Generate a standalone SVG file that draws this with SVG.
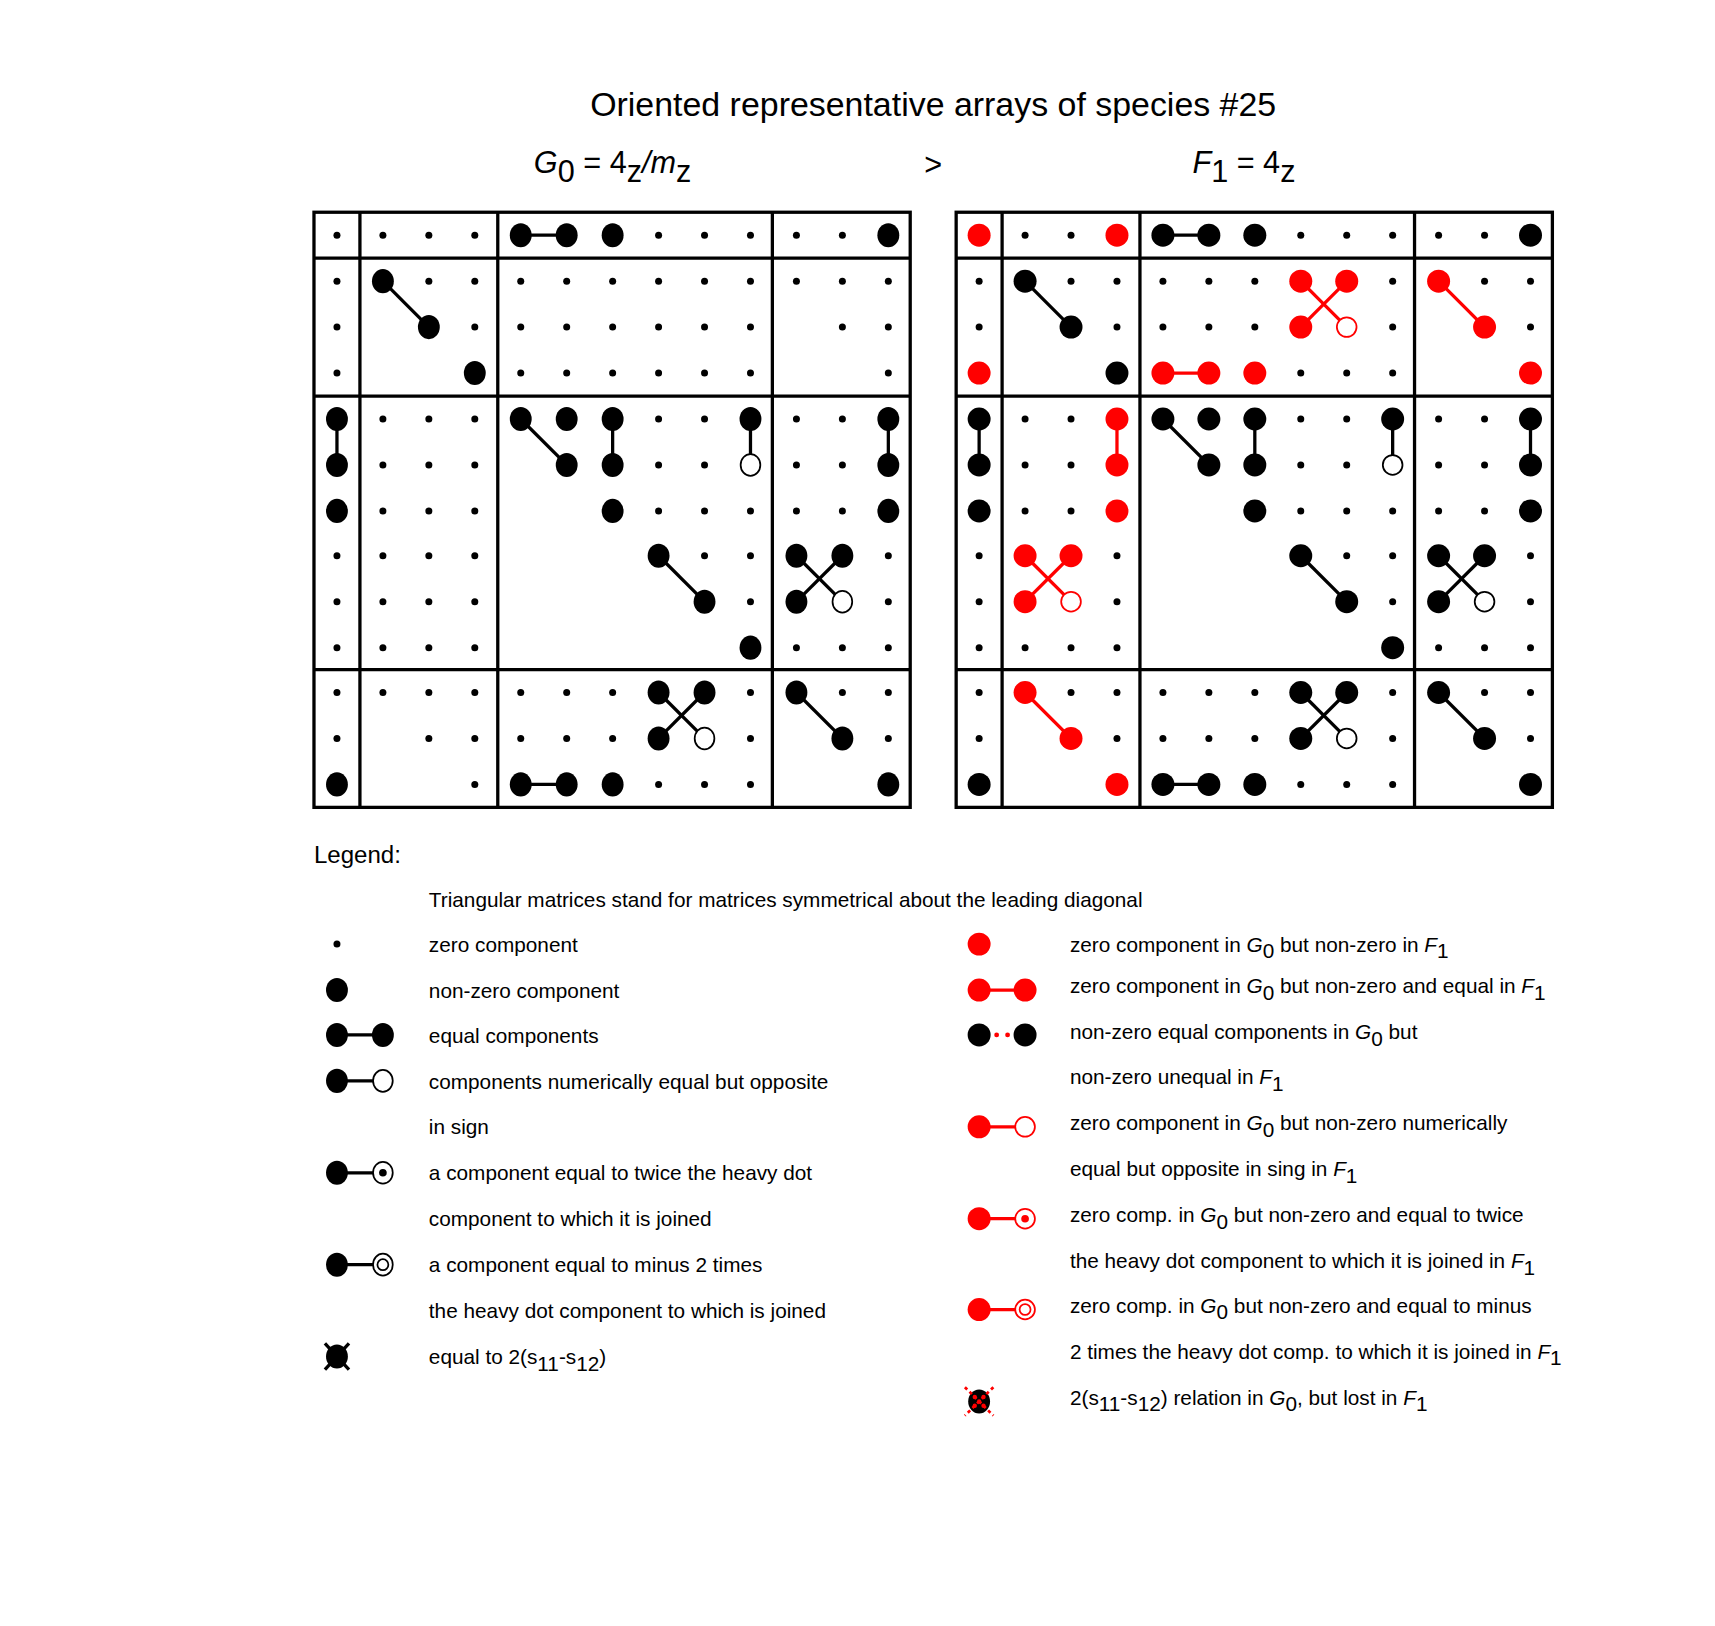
<svg xmlns="http://www.w3.org/2000/svg" width="1715" height="1626" viewBox="0 0 1715 1626">
<style>
text{font-family:"Liberation Sans",Arial,sans-serif;fill:#000}
.t{font-size:19px}
.s{fill:#000}
.b{fill:#000}
.r{fill:#f00}
.o{fill:#fff;stroke:#000;stroke-width:1.6}
.or{fill:#fff;stroke:#f00;stroke-width:1.6}
.l{stroke:#000;stroke-width:3;fill:none}
.lr{stroke:#f00;stroke-width:3;fill:none}
.g{stroke:#000;stroke-width:3;fill:none}
</style>
<defs>
<circle id="s" r="3.2"/>
<ellipse id="b" rx="10" ry="11"/>
<circle id="B" r="10.5"/>
</defs>
<rect width="1715" height="1626" fill="#fff"/>
<g transform="scale(1.094)">
<g id="title">
<text x="853" y="106" font-size="31" text-anchor="middle">Oriented representative arrays of species #25</text>
<text x="488" y="158" font-size="28"><tspan font-style="italic">G</tspan><tspan dy="8">0</tspan><tspan dy="-8"> = 4</tspan><tspan dy="8">z</tspan><tspan dy="-8" font-style="italic">/m</tspan><tspan dy="8">z</tspan></text>
<text x="853" y="160" font-size="28" text-anchor="middle">&gt;</text>
<text x="1090" y="158" font-size="28"><tspan font-style="italic">F</tspan><tspan dy="8">1</tspan><tspan dy="-8"> = 4</tspan><tspan dy="8">z</tspan></text>
</g>
<g id="gridG0">
<g class="g">
<rect x="287" y="194" width="545" height="544"/>
<line x1="329" y1="194" x2="329" y2="738"/><line x1="455" y1="194" x2="455" y2="738"/><line x1="706" y1="194" x2="706" y2="738"/>
<line x1="287" y1="236" x2="832" y2="236"/><line x1="287" y1="362" x2="832" y2="362"/><line x1="287" y1="612" x2="832" y2="612"/>
</g>
<g class="l">
<line x1="476" y1="215" x2="518" y2="215"/>
<line x1="350" y1="257" x2="392" y2="299"/>
<line x1="308" y1="383" x2="308" y2="425"/>
<line x1="476" y1="383" x2="518" y2="425"/>
<line x1="560" y1="383" x2="560" y2="425"/>
<line x1="686" y1="383" x2="686" y2="425"/>
<line x1="812" y1="383" x2="812" y2="425"/>
<line x1="602" y1="508" x2="644" y2="550"/>
<line x1="728" y1="508" x2="770" y2="550"/>
<line x1="770" y1="508" x2="728" y2="550"/>
<line x1="602" y1="633" x2="644" y2="675"/>
<line x1="644" y1="633" x2="602" y2="675"/>
<line x1="728" y1="633" x2="770" y2="675"/>
<line x1="476" y1="717" x2="518" y2="717"/>
</g>
<g class="s">
<use href="#s" x="308" y="215"/><use href="#s" x="350" y="215"/><use href="#s" x="392" y="215"/><use href="#s" x="434" y="215"/><use href="#s" x="602" y="215"/><use href="#s" x="644" y="215"/><use href="#s" x="686" y="215"/><use href="#s" x="728" y="215"/><use href="#s" x="770" y="215"/>
<use href="#s" x="308" y="257"/><use href="#s" x="392" y="257"/><use href="#s" x="434" y="257"/><use href="#s" x="476" y="257"/><use href="#s" x="518" y="257"/><use href="#s" x="560" y="257"/><use href="#s" x="602" y="257"/><use href="#s" x="644" y="257"/><use href="#s" x="686" y="257"/><use href="#s" x="728" y="257"/><use href="#s" x="770" y="257"/><use href="#s" x="812" y="257"/>
<use href="#s" x="308" y="299"/><use href="#s" x="434" y="299"/><use href="#s" x="476" y="299"/><use href="#s" x="518" y="299"/><use href="#s" x="560" y="299"/><use href="#s" x="602" y="299"/><use href="#s" x="644" y="299"/><use href="#s" x="686" y="299"/><use href="#s" x="770" y="299"/><use href="#s" x="812" y="299"/>
<use href="#s" x="308" y="341"/><use href="#s" x="476" y="341"/><use href="#s" x="518" y="341"/><use href="#s" x="560" y="341"/><use href="#s" x="602" y="341"/><use href="#s" x="644" y="341"/><use href="#s" x="686" y="341"/><use href="#s" x="812" y="341"/>
<use href="#s" x="350" y="383"/><use href="#s" x="392" y="383"/><use href="#s" x="434" y="383"/><use href="#s" x="602" y="383"/><use href="#s" x="644" y="383"/><use href="#s" x="728" y="383"/><use href="#s" x="770" y="383"/>
<use href="#s" x="350" y="425"/><use href="#s" x="392" y="425"/><use href="#s" x="434" y="425"/><use href="#s" x="602" y="425"/><use href="#s" x="644" y="425"/><use href="#s" x="728" y="425"/><use href="#s" x="770" y="425"/>
<use href="#s" x="350" y="467"/><use href="#s" x="392" y="467"/><use href="#s" x="434" y="467"/><use href="#s" x="602" y="467"/><use href="#s" x="644" y="467"/><use href="#s" x="686" y="467"/><use href="#s" x="728" y="467"/><use href="#s" x="770" y="467"/>
<use href="#s" x="308" y="508"/><use href="#s" x="350" y="508"/><use href="#s" x="392" y="508"/><use href="#s" x="434" y="508"/><use href="#s" x="644" y="508"/><use href="#s" x="686" y="508"/><use href="#s" x="812" y="508"/>
<use href="#s" x="308" y="550"/><use href="#s" x="350" y="550"/><use href="#s" x="392" y="550"/><use href="#s" x="434" y="550"/><use href="#s" x="686" y="550"/><use href="#s" x="812" y="550"/>
<use href="#s" x="308" y="592"/><use href="#s" x="350" y="592"/><use href="#s" x="392" y="592"/><use href="#s" x="434" y="592"/><use href="#s" x="728" y="592"/><use href="#s" x="770" y="592"/><use href="#s" x="812" y="592"/>
<use href="#s" x="308" y="633"/><use href="#s" x="350" y="633"/><use href="#s" x="392" y="633"/><use href="#s" x="434" y="633"/><use href="#s" x="476" y="633"/><use href="#s" x="518" y="633"/><use href="#s" x="560" y="633"/><use href="#s" x="686" y="633"/><use href="#s" x="770" y="633"/><use href="#s" x="812" y="633"/>
<use href="#s" x="308" y="675"/><use href="#s" x="392" y="675"/><use href="#s" x="434" y="675"/><use href="#s" x="476" y="675"/><use href="#s" x="518" y="675"/><use href="#s" x="560" y="675"/><use href="#s" x="686" y="675"/><use href="#s" x="812" y="675"/>
<use href="#s" x="434" y="717"/><use href="#s" x="602" y="717"/><use href="#s" x="644" y="717"/><use href="#s" x="686" y="717"/>
</g>
<g class="b">
<use href="#b" x="476" y="215"/><use href="#b" x="518" y="215"/><use href="#b" x="560" y="215"/><use href="#b" x="812" y="215"/>
<use href="#b" x="350" y="257"/><use href="#b" x="392" y="299"/><use href="#b" x="434" y="341"/>
<use href="#b" x="308" y="383"/><use href="#b" x="476" y="383"/><use href="#b" x="518" y="383"/><use href="#b" x="560" y="383"/><use href="#b" x="686" y="383"/><use href="#b" x="812" y="383"/>
<use href="#b" x="308" y="425"/><use href="#b" x="518" y="425"/><use href="#b" x="560" y="425"/><use href="#b" x="812" y="425"/>
<use href="#b" x="308" y="467"/><use href="#b" x="560" y="467"/><use href="#b" x="812" y="467"/>
<use href="#b" x="602" y="508"/><use href="#b" x="728" y="508"/><use href="#b" x="770" y="508"/>
<use href="#b" x="644" y="550"/><use href="#b" x="728" y="550"/>
<use href="#b" x="686" y="592"/>
<use href="#b" x="602" y="633"/><use href="#b" x="644" y="633"/><use href="#b" x="728" y="633"/>
<use href="#b" x="602" y="675"/><use href="#b" x="770" y="675"/>
<use href="#b" x="308" y="717"/><use href="#b" x="476" y="717"/><use href="#b" x="518" y="717"/><use href="#b" x="560" y="717"/><use href="#b" x="812" y="717"/>
</g>
<ellipse class="o" cx="686" cy="425" rx="9" ry="10"/>
<ellipse class="o" cx="770" cy="550" rx="9" ry="10"/>
<ellipse class="o" cx="644" cy="675" rx="9" ry="10"/>
</g>
<g id="gridF1">
<g class="g">
<rect x="874" y="194" width="545" height="544"/>
<line x1="916" y1="194" x2="916" y2="738"/><line x1="1042" y1="194" x2="1042" y2="738"/><line x1="1293" y1="194" x2="1293" y2="738"/>
<line x1="874" y1="236" x2="1419" y2="236"/><line x1="874" y1="362" x2="1419" y2="362"/><line x1="874" y1="612" x2="1419" y2="612"/>
</g>
<g class="l">
<line x1="1063" y1="215" x2="1105" y2="215"/>
<line x1="937" y1="257" x2="979" y2="299"/>
<line x1="895" y1="383" x2="895" y2="425"/>
<line x1="1063" y1="383" x2="1105" y2="425"/>
<line x1="1147" y1="383" x2="1147" y2="425"/>
<line x1="1273" y1="383" x2="1273" y2="425"/>
<line x1="1399" y1="383" x2="1399" y2="425"/>
<line x1="1189" y1="508" x2="1231" y2="550"/>
<line x1="1315" y1="508" x2="1357" y2="550"/>
<line x1="1357" y1="508" x2="1315" y2="550"/>
<line x1="1189" y1="633" x2="1231" y2="675"/>
<line x1="1231" y1="633" x2="1189" y2="675"/>
<line x1="1315" y1="633" x2="1357" y2="675"/>
<line x1="1063" y1="717" x2="1105" y2="717"/>
</g>
<g class="lr">
<line x1="1189" y1="257" x2="1231" y2="299"/>
<line x1="1231" y1="257" x2="1189" y2="299"/>
<line x1="1315" y1="257" x2="1357" y2="299"/>
<line x1="1063" y1="341" x2="1105" y2="341"/>
<line x1="1021" y1="383" x2="1021" y2="425"/>
<line x1="937" y1="508" x2="979" y2="550"/>
<line x1="979" y1="508" x2="937" y2="550"/>
<line x1="937" y1="633" x2="979" y2="675"/>
</g>
<g class="s">
<use href="#s" x="937" y="215"/><use href="#s" x="979" y="215"/><use href="#s" x="1189" y="215"/><use href="#s" x="1231" y="215"/><use href="#s" x="1273" y="215"/><use href="#s" x="1315" y="215"/><use href="#s" x="1357" y="215"/>
<use href="#s" x="895" y="257"/><use href="#s" x="979" y="257"/><use href="#s" x="1021" y="257"/><use href="#s" x="1063" y="257"/><use href="#s" x="1105" y="257"/><use href="#s" x="1147" y="257"/><use href="#s" x="1273" y="257"/><use href="#s" x="1357" y="257"/><use href="#s" x="1399" y="257"/>
<use href="#s" x="895" y="299"/><use href="#s" x="1021" y="299"/><use href="#s" x="1063" y="299"/><use href="#s" x="1105" y="299"/><use href="#s" x="1147" y="299"/><use href="#s" x="1273" y="299"/><use href="#s" x="1399" y="299"/>
<use href="#s" x="1189" y="341"/><use href="#s" x="1231" y="341"/><use href="#s" x="1273" y="341"/>
<use href="#s" x="937" y="383"/><use href="#s" x="979" y="383"/><use href="#s" x="1189" y="383"/><use href="#s" x="1231" y="383"/><use href="#s" x="1315" y="383"/><use href="#s" x="1357" y="383"/>
<use href="#s" x="937" y="425"/><use href="#s" x="979" y="425"/><use href="#s" x="1189" y="425"/><use href="#s" x="1231" y="425"/><use href="#s" x="1315" y="425"/><use href="#s" x="1357" y="425"/>
<use href="#s" x="937" y="467"/><use href="#s" x="979" y="467"/><use href="#s" x="1189" y="467"/><use href="#s" x="1231" y="467"/><use href="#s" x="1273" y="467"/><use href="#s" x="1315" y="467"/><use href="#s" x="1357" y="467"/>
<use href="#s" x="895" y="508"/><use href="#s" x="1021" y="508"/><use href="#s" x="1231" y="508"/><use href="#s" x="1273" y="508"/><use href="#s" x="1399" y="508"/>
<use href="#s" x="895" y="550"/><use href="#s" x="1021" y="550"/><use href="#s" x="1273" y="550"/><use href="#s" x="1399" y="550"/>
<use href="#s" x="895" y="592"/><use href="#s" x="937" y="592"/><use href="#s" x="979" y="592"/><use href="#s" x="1021" y="592"/><use href="#s" x="1315" y="592"/><use href="#s" x="1357" y="592"/><use href="#s" x="1399" y="592"/>
<use href="#s" x="895" y="633"/><use href="#s" x="979" y="633"/><use href="#s" x="1021" y="633"/><use href="#s" x="1063" y="633"/><use href="#s" x="1105" y="633"/><use href="#s" x="1147" y="633"/><use href="#s" x="1273" y="633"/><use href="#s" x="1357" y="633"/><use href="#s" x="1399" y="633"/>
<use href="#s" x="895" y="675"/><use href="#s" x="1021" y="675"/><use href="#s" x="1063" y="675"/><use href="#s" x="1105" y="675"/><use href="#s" x="1147" y="675"/><use href="#s" x="1273" y="675"/><use href="#s" x="1399" y="675"/>
<use href="#s" x="1189" y="717"/><use href="#s" x="1231" y="717"/><use href="#s" x="1273" y="717"/>
</g>
<g class="b">
<use href="#B" x="1063" y="215"/><use href="#B" x="1105" y="215"/><use href="#B" x="1147" y="215"/><use href="#B" x="1399" y="215"/>
<use href="#B" x="937" y="257"/><use href="#B" x="979" y="299"/><use href="#B" x="1021" y="341"/>
<use href="#B" x="895" y="383"/><use href="#B" x="1063" y="383"/><use href="#B" x="1105" y="383"/><use href="#B" x="1147" y="383"/><use href="#B" x="1273" y="383"/><use href="#B" x="1399" y="383"/>
<use href="#B" x="895" y="425"/><use href="#B" x="1105" y="425"/><use href="#B" x="1147" y="425"/><use href="#B" x="1399" y="425"/>
<use href="#B" x="895" y="467"/><use href="#B" x="1147" y="467"/><use href="#B" x="1399" y="467"/>
<use href="#B" x="1189" y="508"/><use href="#B" x="1315" y="508"/><use href="#B" x="1357" y="508"/>
<use href="#B" x="1231" y="550"/><use href="#B" x="1315" y="550"/>
<use href="#B" x="1273" y="592"/>
<use href="#B" x="1189" y="633"/><use href="#B" x="1231" y="633"/><use href="#B" x="1315" y="633"/>
<use href="#B" x="1189" y="675"/><use href="#B" x="1357" y="675"/>
<use href="#B" x="895" y="717"/><use href="#B" x="1063" y="717"/><use href="#B" x="1105" y="717"/><use href="#B" x="1147" y="717"/><use href="#B" x="1399" y="717"/>
</g>
<g class="r">
<use href="#B" x="895" y="215"/><use href="#B" x="1021" y="215"/>
<use href="#B" x="1189" y="257"/><use href="#B" x="1231" y="257"/><use href="#B" x="1315" y="257"/>
<use href="#B" x="1189" y="299"/><use href="#B" x="1357" y="299"/>
<use href="#B" x="895" y="341"/><use href="#B" x="1063" y="341"/><use href="#B" x="1105" y="341"/><use href="#B" x="1147" y="341"/><use href="#B" x="1399" y="341"/>
<use href="#B" x="1021" y="383"/><use href="#B" x="1021" y="425"/><use href="#B" x="1021" y="467"/>
<use href="#B" x="937" y="508"/><use href="#B" x="979" y="508"/><use href="#B" x="937" y="550"/>
<use href="#B" x="937" y="633"/><use href="#B" x="979" y="675"/><use href="#B" x="1021" y="717"/>
</g>
<circle class="or" cx="1231" cy="299" r="9"/>
<circle class="or" cx="979" cy="550" r="9"/>
<circle class="o" cx="1273" cy="425" r="9"/>
<circle class="o" cx="1357" cy="550" r="9"/>
<circle class="o" cx="1231" cy="675" r="9"/>
</g>
<g id="legend">
<text x="287" y="789" font-size="22">Legend:</text>
<text class="t" x="392" y="829">Triangular matrices stand for matrices symmetrical about the leading diagonal</text>
<use href="#s" x="308" y="863"/>
<text class="t" x="392" y="870">zero component</text>
<use href="#b" x="308" y="905"/>
<text class="t" x="392" y="912">non-zero component</text>
<line class="l" x1="308" y1="946" x2="350" y2="946"/><use href="#b" x="308" y="946"/><use href="#b" x="350" y="946"/>
<text class="t" x="392" y="953">equal components</text>
<line class="l" x1="308" y1="988" x2="350" y2="988"/><use href="#b" x="308" y="988"/><ellipse class="o" cx="350" cy="988" rx="9" ry="10"/>
<text class="t" x="392" y="995">components numerically equal but opposite</text>
<text class="t" x="392" y="1037">in sign</text>
<line class="l" x1="308" y1="1072" x2="350" y2="1072"/><use href="#b" x="308" y="1072"/><ellipse class="o" cx="350" cy="1072" rx="9" ry="10"/><circle cx="350" cy="1072" r="3.5"/>
<text class="t" x="392" y="1079">a component equal to twice the heavy dot</text>
<text class="t" x="392" y="1121">component to which it is joined</text>
<line class="l" x1="308" y1="1156" x2="350" y2="1156"/><use href="#b" x="308" y="1156"/><ellipse class="o" cx="350" cy="1156" rx="9" ry="10"/><circle class="o" cx="350" cy="1156" r="5"/>
<text class="t" x="392" y="1163">a component equal to minus 2 times</text>
<text class="t" x="392" y="1205">the heavy dot component to which is joined</text>
<use href="#b" x="308" y="1240"/><line class="l" x1="297" y1="1228" x2="319" y2="1252"/><line class="l" x1="319" y1="1228" x2="297" y2="1252"/>
<text class="t" x="392" y="1247">equal to 2(s<tspan dy="6">11</tspan><tspan dy="-6">-s</tspan><tspan dy="6">12</tspan><tspan dy="-6">)</tspan></text>

<use href="#B" class="r" x="895" y="863"/>
<text class="t" x="978" y="870">zero component in <tspan font-style="italic">G</tspan><tspan dy="6">0</tspan><tspan dy="-6"> but non-zero in </tspan><tspan font-style="italic">F</tspan><tspan dy="6">1</tspan></text>
<line class="lr" x1="895" y1="905" x2="937" y2="905"/><use href="#B" class="r" x="895" y="905"/><use href="#B" class="r" x="937" y="905"/>
<text class="t" x="978" y="908">zero component in <tspan font-style="italic">G</tspan><tspan dy="6">0</tspan><tspan dy="-6"> but non-zero and equal in </tspan><tspan font-style="italic">F</tspan><tspan dy="6">1</tspan></text>
<use href="#B" x="895" y="946"/><use href="#B" x="937" y="946"/><circle class="r" cx="911" cy="946" r="2.2"/><circle class="r" cx="921" cy="946" r="2.2"/>
<text class="t" x="978" y="950">non-zero equal components in <tspan font-style="italic">G</tspan><tspan dy="6">0</tspan><tspan dy="-6"> but</tspan></text>
<text class="t" x="978" y="991">non-zero unequal in <tspan font-style="italic">F</tspan><tspan dy="6">1</tspan></text>
<line class="lr" x1="895" y1="1030" x2="937" y2="1030"/><use href="#B" class="r" x="895" y="1030"/><circle class="or" cx="937" cy="1030" r="9"/>
<text class="t" x="978" y="1033">zero component in <tspan font-style="italic">G</tspan><tspan dy="6">0</tspan><tspan dy="-6"> but non-zero numerically</tspan></text>
<text class="t" x="978" y="1075">equal but opposite in sing in <tspan font-style="italic">F</tspan><tspan dy="6">1</tspan></text>
<line class="lr" x1="895" y1="1114" x2="937" y2="1114"/><use href="#B" class="r" x="895" y="1114"/><circle class="or" cx="937" cy="1114" r="9"/><circle class="r" cx="937" cy="1114" r="3.5"/>
<text class="t" x="978" y="1117">zero comp. in <tspan font-style="italic">G</tspan><tspan dy="6">0</tspan><tspan dy="-6"> but non-zero and equal to twice</tspan></text>
<text class="t" x="978" y="1159">the heavy dot component to which it is joined in <tspan font-style="italic">F</tspan><tspan dy="6">1</tspan></text>
<line class="lr" x1="895" y1="1197" x2="937" y2="1197"/><use href="#B" class="r" x="895" y="1197"/><circle class="or" cx="937" cy="1197" r="9"/><circle class="or" cx="937" cy="1197" r="5"/>
<text class="t" x="978" y="1200">zero comp. in <tspan font-style="italic">G</tspan><tspan dy="6">0</tspan><tspan dy="-6"> but non-zero and equal to minus</tspan></text>
<text class="t" x="978" y="1242">2 times the heavy dot comp. to which it is joined in <tspan font-style="italic">F</tspan><tspan dy="6">1</tspan></text>
<use href="#b" x="895" y="1281"/>
<g class="r"><circle cx="891" cy="1277" r="2"/><circle cx="899" cy="1277" r="2"/><circle cx="895" cy="1281" r="2"/><circle cx="891" cy="1285" r="2"/><circle cx="899" cy="1285" r="2"/></g>
<g stroke="#f00" stroke-width="2.5" stroke-dasharray="3 3"><line x1="882" y1="1268" x2="908" y2="1294"/><line x1="908" y1="1268" x2="882" y2="1294"/></g>
<text class="t" x="978" y="1284">2(s<tspan dy="6">11</tspan><tspan dy="-6">-s</tspan><tspan dy="6">12</tspan><tspan dy="-6">) relation in </tspan><tspan font-style="italic">G</tspan><tspan dy="6">0</tspan><tspan dy="-6">, but lost in </tspan><tspan font-style="italic">F</tspan><tspan dy="6">1</tspan></text>
</g>
</g>
</svg>
